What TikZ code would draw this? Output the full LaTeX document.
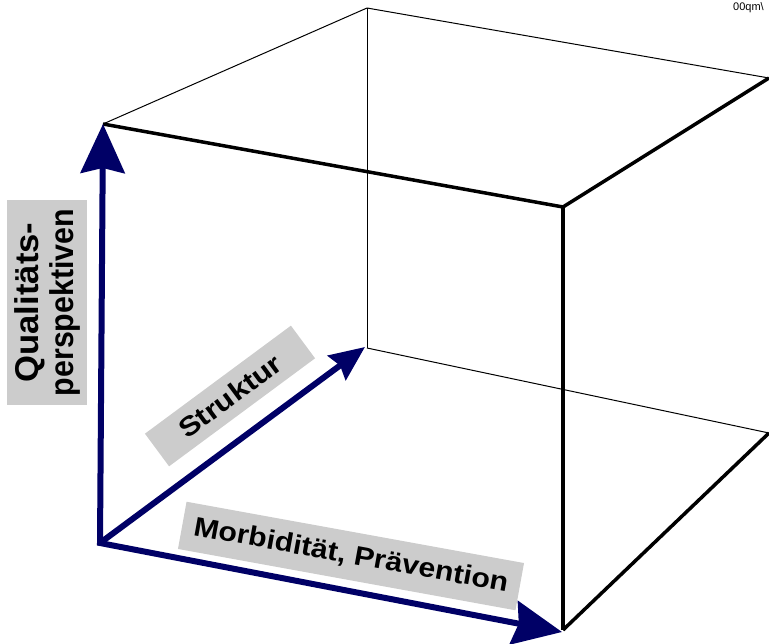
\documentclass[tikz,border=0pt]{standalone}
\usepackage{fontspec}
\setmainfont{Liberation Sans}
\newfontfamily\qualfont{Liberation Sans}[FakeStretch=1.05]
\newfontfamily\perspfont{Liberation Sans}[FakeStretch=0.92]
\newfontfamily\strukfont{Liberation Sans}[FakeStretch=1.15]
\newfontfamily\morbfont{Liberation Sans}[FakeStretch=1.12]
\usetikzlibrary{arrows.meta}
\definecolor{axisblue}{RGB}{0,0,102}
\definecolor{labelgray}{RGB}{204,204,204}
\tikzset{
  thinedge/.style={draw=black, line width=1pt},
  thickedge/.style={draw=black, line width=3.5pt},
  axisline/.style={draw=axisblue, line width=6pt},
  bigtip/.tip={Stealth[length=49pt,width=44pt,inset=5pt]},
  smalltip/.tip={Stealth[length=35pt,width=30pt,inset=4pt]},
  lbl/.style={fill=labelgray, inner sep=0pt, align=center, text=black},
}
\begin{document}
\begin{tikzpicture}[x=1pt,y=-1pt]
\useasboundingbox (0,0) rectangle (769,644);
\clip (0,0) rectangle (769,644);
% cube corners
\coordinate (A) at (103,124);
\coordinate (B) at (563,207);
\coordinate (C) at (563,630);
\coordinate (D) at (367,8);
\coordinate (E) at (367,348);
\coordinate (F) at (769,78);
\coordinate (G) at (769,433);
% axes points
\coordinate (O) at (100,543);
\coordinate (Q) at (103,124);
\coordinate (S) at (365,347);
\coordinate (M) at (562,632);
% thin back edges
\draw[thinedge] (A) -- (D);
\draw[thinedge] (D) -- (F);
\draw[thinedge] (D) -- (E);
\draw[thinedge] (E) -- (G);
% thick front edges
\draw[thickedge] (A) -- (B);
\draw[thickedge] (B) -- (C);
\draw[thickedge] (B) -- (F);
\draw[thickedge] (C) -- (G);
% axes
\draw[axisline, {bigtip}-{bigtip}] (Q) -- (O) -- (M);
\draw[axisline, -{smalltip}] (O) -- (S);
% labels
\node[lbl, minimum width=205pt, minimum height=80pt, rotate=90,
      font=\fontsize{33}{35}\selectfont\bfseries] (qual) at (47,302.5)
  {{\qualfont\bfseries Qualitäts-}\\{\perspfont\bfseries perspektiven}};
\node[lbl, minimum width=181.6pt, minimum height=40.6pt, rotate=36.5,
      font=\fontsize{27}{30}\selectfont\strukfont\bfseries] (struk) at (230,396)
  {Struktur};
\node[lbl, minimum width=343pt, minimum height=48pt, rotate=-10.3,
      font=\fontsize{27}{30}\selectfont\morbfont\bfseries] (morb) at (351,556)
  {Morbidität, Prävention};
\node[anchor=base west, inner sep=0pt, font=\fontsize{11}{12}\selectfont] (code) at (733,11) {00qm\textbackslash};
\end{tikzpicture}
\end{document}
